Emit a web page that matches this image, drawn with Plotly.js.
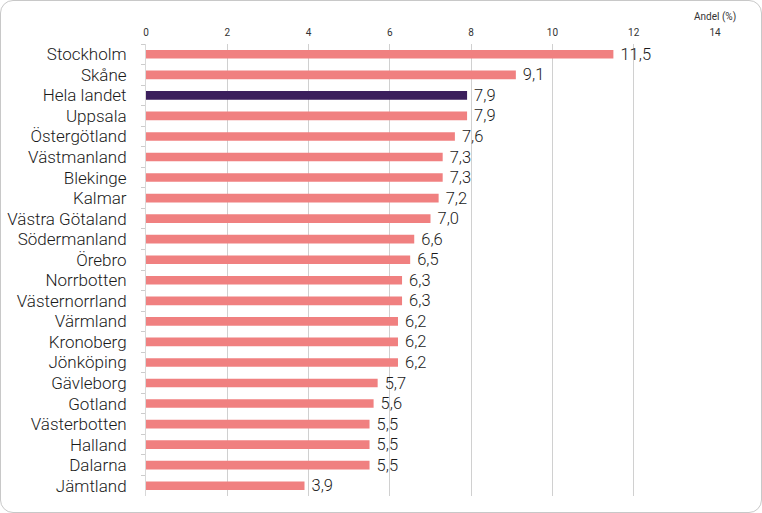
<!DOCTYPE html>
<html><head><meta charset="utf-8">
<script src="https://cdn.plot.ly/plotly-3.0.1.min.js"></script>
<style>
html,body{margin:0;padding:0;background:#fff;}
#wrap{position:absolute;left:0;top:0;width:760px;height:511px;border:1px solid #c8c8c8;border-radius:13px;overflow:hidden;}
#chart{width:760px;height:511px;}
</style></head>
<body><div id="wrap"><div id="chart"></div></div>
<script>
const regions = ["Stockholm","Skåne","Hela landet","Uppsala","Östergötland","Västmanland","Blekinge","Kalmar","Västra Götaland","Södermanland","Örebro","Norrbotten","Västernorrland","Värmland","Kronoberg","Jönköping","Gävleborg","Gotland","Västerbotten","Halland","Dalarna","Jämtland"];
const values = [11.5,9.1,7.9,7.9,7.6,7.3,7.3,7.2,7.0,6.6,6.5,6.3,6.3,6.2,6.2,6.2,5.7,5.6,5.5,5.5,5.5,3.9];
const highlight = "Hela landet";
const xTicks = [0,2,4,6,8,10,12,14];
const axisLabel = "Andel (%)";

const colors = regions.map(r => r === highlight ? "#3b1f5c" : "#f08080");

Plotly.newPlot("chart", [{
  type: "bar",
  orientation: "h",
  y: regions,
  x: values,
  marker: {color: colors},
  width: 0.42,
  text: values.map(v => " " + v.toFixed(1).replace(".", ",")),
  textposition: "outside",
  constraintext: "none",
  cliponaxis: false,
  textfont: {family: "Roboto, sans-serif", size: 16.5, color: "#1a1a1a", weight: 300},
  hoverinfo: "none"
}], {
  width: 760, height: 511,
  margin: {l: 145, r: 46, t: 43, b: 16},
  paper_bgcolor: "rgba(0,0,0,0)",
  plot_bgcolor: "#fff",
  showlegend: false,
  separators: ", ",
  font: {family: "Roboto, sans-serif", color: "#222"},
  xaxis: {
    side: "top",
    range: [0, 14],
    tickvals: xTicks,
    ticktext: xTicks.map(String),
    tickfont: {size: 10, color: "#333"},
    ticklabelstandoff: 5,
    showgrid: true, gridcolor: "#d0d0d0", gridwidth: 1,
    zeroline: false, showline: false, ticks: "",
    fixedrange: true
  },
  yaxis: {
    type: "category",
    autorange: "reversed",
    tickfont: {size: 17, color: "#1a1a1a", weight: 300},
    ticks: "outside", ticklen: 4, tickcolor: "#cccccc",
    tickson: "boundaries",
    showline: true, linecolor: "#d8d8d8", linewidth: 1,
    showgrid: false, zeroline: false,
    ticklabelstandoff: 15,
    fixedrange: true
  },
  annotations: [{
    text: axisLabel, xref: "paper", yref: "paper",
    x: 1.0, y: 1, yshift: 19, xanchor: "center", yanchor: "bottom",
    showarrow: false, font: {size: 10, color: "#333"}
  }]
}, {displayModeBar: false, staticPlot: true});
</script></body></html>
